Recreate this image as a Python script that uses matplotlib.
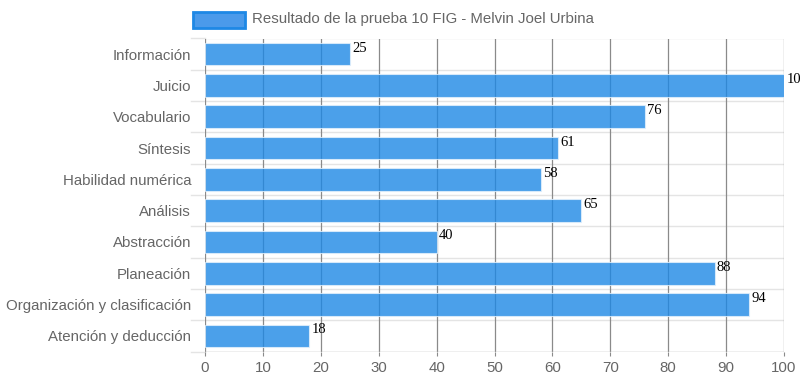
import matplotlib
matplotlib.use("Agg")
import matplotlib.pyplot as plt
from matplotlib.patches import Rectangle

categories = ["Información", "Juicio", "Vocabulario", "Síntesis", "Habilidad numérica",
              "Análisis", "Abstracción", "Planeación", "Organización y clasificación",
              "Atención y deducción"]
values = [25, 100, 76, 61, 58, 65, 40, 88, 94, 18]
xticks = [0, 10, 20, 30, 40, 50, 60, 70, 80, 90, 100]
legend_label = "Resultado de la prueba 10 FIG - Melvin Joel Urbina"

plt.rcParams['font.family'] = ['Liberation Sans', 'DejaVu Sans']

fig = plt.figure(figsize=(8, 3.86), dpi=100)
W, H = 800, 386
left, right, top, bottom = 205, 784, 38.5, 351.5
ax = fig.add_axes([left / W, 1 - bottom / H, (right - left) / W, (bottom - top) / H])

n = len(categories)
ypos = list(range(n))
ax.barh(ypos, values, height=0.72, color='#1e88e5', alpha=0.8, zorder=3,
        edgecolor='#e3f0fc', linewidth=0.8)
ax.set_ylim(n - 0.5, -0.5)
ax.set_xlim(0, 100)

# grid
for x in xticks:
    ax.axvline(x, color='#8a8a8a', lw=0.9, zorder=2)
for i in range(n + 1):
    ax.axhline(i - 0.5, color='#e4e4e4', lw=1, zorder=1)
ax.axhline(n - 0.5, color='#c8c8c8', lw=1, zorder=2)

for s in ax.spines.values():
    s.set_visible(False)

ax.set_xticks(xticks)
ax.set_xticklabels([str(t) for t in xticks])
ax.set_yticks(ypos)
ax.set_yticklabels(categories)
ax.tick_params(axis='x', length=3, color='#8a8a8a', labelsize=10.8, labelcolor='#666666', pad=4)
ax.tick_params(axis='y', length=0, labelsize=10.8, labelcolor='#666666', pad=10)

# tick extensions of horizontal lines to the left
for i in range(n + 1):
    ax.plot([-2.4, 0], [i - 0.5, i - 0.5], color='#e4e4e4', lw=1, clip_on=False, zorder=1)

for i, v in enumerate(values):
    ax.text(v + 0.4, i - 0.4, str(v), ha='left', va='top', fontsize=10.5,
            family='Liberation Serif', color='black', zorder=4, clip_on=False)

# legend
fig.patches.append(Rectangle((193 / W, 1 - 28 / H), 52 / W, 16 / H, transform=fig.transFigure,
                             facecolor='#4b9aea', edgecolor='#1e88e5', lw=2))
fig.text(252 / W, 1 - 19 / H, legend_label, ha='left', va='center', fontsize=10.8, color='#666666')

fig.savefig("out.png", dpi=100)
